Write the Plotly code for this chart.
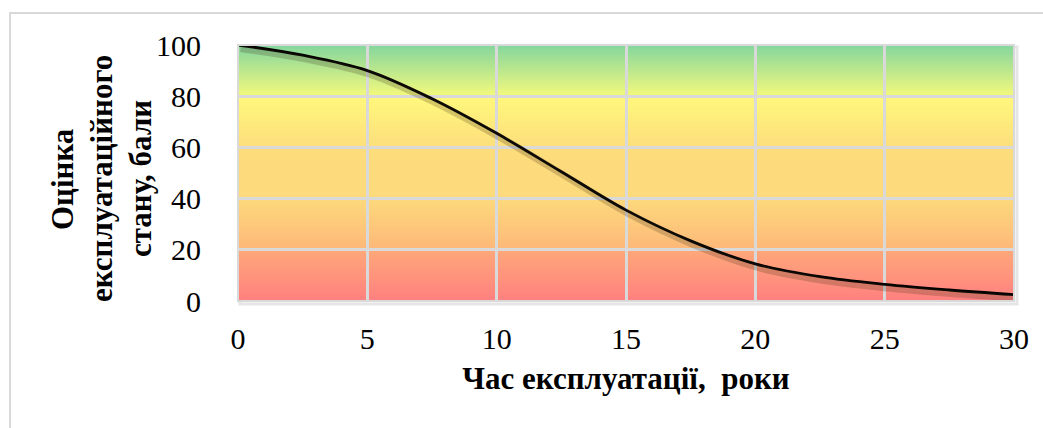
import plotly.graph_objects as go

# Service-condition score vs. operating time
years = [0, 2.5, 5, 7.5, 10, 12.5, 15, 17.5, 20, 22.5, 25, 27.5, 30]
score = [100, 96, 90, 79, 65.5, 50.5, 35.5, 23.5, 14.5, 9.5, 6.5, 4.3, 2.5]

x_ticks = [0, 5, 10, 15, 20, 25, 30]
y_ticks = [0, 20, 40, 60, 80, 100]

# Background zones: (low, high, colour at low, colour at high)
zones = [
    (0, 20, (255, 128, 128), (254, 168, 122)),
    (20, 40, (253, 184, 122), (253, 217, 124)),
    (40, 60, (253, 218, 124), (253, 220, 124)),
    (60, 80, (253, 222, 124), (255, 248, 124)),
    (80, 100, (244, 249, 124), (132, 214, 158)),
]

W, H = 1043, 428
L, R, T, B = 238, 29, 45, 127
PW, PH = W - L - R, H - T - B
FONT = "Liberation Serif"


def px_x(px):
    return (px - L) / PW


def px_y(py):
    return (H - B - py) / PH


shapes = []
steps = 24
for lo, hi, c0, c1 in zones:
    for i in range(steps):
        f = (i + 0.5) / steps
        col = tuple(round(c0[k] + (c1[k] - c0[k]) * f) for k in range(3))
        y0 = lo + (hi - lo) * i / steps
        y1 = lo + (hi - lo) * (i + 1) / steps
        # overlap into the next strip so no seams show between strips
        if i < steps - 1:
            y1 += (hi - lo) / steps * 0.6
        shapes.append(dict(type="rect", xref="x", yref="y", x0=0, x1=30, y0=y0, y1=y1,
                           fillcolor="rgb(%d,%d,%d)" % col, line=dict(width=0), layer="below"))

# soft shadow of the plot frame
shapes.append(dict(type="rect", xref="paper", yref="paper",
                   x0=px_x(L + 2), x1=px_x(L + PW + 3), y0=px_y(T + PH + 3), y1=px_y(T + 2),
                   line=dict(color="rgba(0,0,0,0.10)", width=3), layer="below"))
# plot frame
shapes.append(dict(type="rect", xref="paper", yref="paper", x0=0, x1=1, y0=0, y1=1,
                   line=dict(color="#d9d9d9", width=2), layer="above"))
# outer chart border
shapes.append(dict(type="rect", xref="paper", yref="paper",
                   x0=px_x(10), x1=px_x(W + 20), y0=px_y(H + 20), y1=px_y(13),
                   line=dict(color="#d9d9d9", width=2), layer="below"))

fig = go.Figure()

# shadow under the curve (same data on slightly offset overlay axes)
fig.add_trace(go.Scatter(x=years, y=score, mode="lines", xaxis="x2", yaxis="y2",
                         line=dict(color="rgba(60,40,20,0.22)", width=7, shape="spline"),
                         hoverinfo="skip", showlegend=False))
fig.add_trace(go.Scatter(x=years, y=score, mode="lines",
                         line=dict(color="#000000", width=2.8, shape="spline"),
                         showlegend=False))

axis_font = dict(family=FONT, size=30, color="#000000")
title_font = dict(family=FONT, size=31, color="#000000")

fig.update_layout(
    width=W, height=H,
    margin=dict(l=L, r=R, t=T, b=B),
    paper_bgcolor="white",
    plot_bgcolor="rgba(0,0,0,0)",
    shapes=shapes,
    xaxis=dict(range=[0, 30], tickvals=x_ticks, ticktext=[str(v) for v in x_ticks],
               showgrid=True, gridcolor="#d9d9d9", gridwidth=2.5, zeroline=False,
               ticks="outside", ticklen=11, tickcolor="rgba(0,0,0,0)",
               tickfont=axis_font, showline=False, layer="above traces",
               title=dict(text="<b>Час експлуатації,\u00a0 роки</b>", font=title_font, standoff=13)),
    yaxis=dict(range=[0, 100], tickvals=y_ticks, ticktext=[str(v) for v in y_ticks],
               showgrid=True, gridcolor="#d9d9d9", gridwidth=2.5, zeroline=False,
               ticks="outside", ticklen=30, tickcolor="rgba(0,0,0,0)",
               tickfont=axis_font, showline=False),
    xaxis2=dict(range=[-0.1, 29.9], overlaying="x", visible=False),
    yaxis2=dict(range=[1.4, 101.4], overlaying="y", visible=False),
)

y_title_lines = [("Оцінка", 62), ("експлуатаційного", 101), ("стану, бали", 140)]
for text, xp in y_title_lines:
    fig.add_annotation(text="<b>%s</b>" % text, xref="paper", yref="paper",
                       x=px_x(xp), y=px_y(179), textangle=-90, showarrow=False,
                       xanchor="center", yanchor="middle", font=title_font)

fig.write_html("out.html")
